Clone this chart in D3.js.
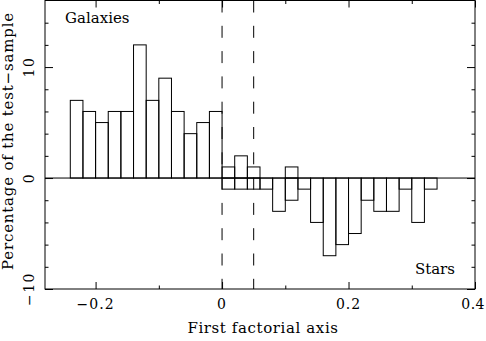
<!DOCTYPE html>
<html>
<head>
<meta charset="utf-8">
<script src="https://cdn.jsdelivr.net/npm/d3@7"></script>
<style>
	body { margin: 0; background: #fff; }
	text { font-family: "DejaVu Serif", serif; fill: #000; }
</style>
</head>
<body>
<script>
// bin left edges (width 0.02) and percentages
const galaxyBins = [-0.24, -0.22, -0.20, -0.18, -0.16, -0.14, -0.12, -0.10, -0.08, -0.06, -0.04, -0.02, 0.00, 0.02, 0.04, 0.10];
const galaxyPct = [7, 6, 5, 6, 6, 12, 7, 9, 6, 4, 5, 6, 1, 2, 1, 1];
const starBins = [0.00, 0.02, 0.04, 0.06, 0.08, 0.10, 0.12, 0.14, 0.16, 0.18, 0.20, 0.22, 0.24, 0.26, 0.28, 0.30, 0.32];
const starPct = [-1, -1, -1, -1, -3, -2, -1, -4, -7, -6, -5, -2, -3, -3, -1, -4, -1];
const binWidth = 0.02;
const cuts = [0, 0.05];

const xMajor = [-0.2, 0, 0.2, 0.4],
	xMinor = [-0.1, 0.1, 0.3],
	yMajor = [-10, 0, 10],
	yMinor = [-8, -6, -4, -2, 2, 4, 6, 8, 12, 14];

const W = 486, H = 341,
	mLeft = 45, mRight = 475, mTop = 0.5, mBottom = 289;

const x = d3.scaleLinear().domain([-0.28, 0.4]).range([mLeft, mRight]),
	y = d3.scaleLinear().domain([-10, 16]).range([mBottom, mTop]);

const svg = d3.select('body').append('svg')
	.attr('width', W)
	.attr('height', H);

const bars = (bins, vals) => bins.map((b, i) => ({x0: b, v: vals[i]}));

svg.append('g')
	.selectAll('rect')
	.data(bars(galaxyBins, galaxyPct).concat(bars(starBins, starPct)))
	.enter()
	.append('rect')
	.attr('x', d => x(d.x0))
	.attr('width', d => x(d.x0 + binWidth) - x(d.x0))
	.attr('y', d => Math.min(y(d.v), y(0)))
	.attr('height', d => Math.abs(y(d.v) - y(0)))
	.attr('fill', 'none')
	.attr('stroke', '#000')
	.attr('stroke-width', 1);

// zero line
svg.append('line')
	.attr('x1', mLeft).attr('x2', mRight)
	.attr('y1', y(0)).attr('y2', y(0))
	.attr('stroke', '#000');

svg.selectAll('.cut')
	.data(cuts)
	.enter()
	.append('line')
	.attr('x1', d => x(d)).attr('x2', d => x(d))
	.attr('y1', mTop).attr('y2', mBottom)
	.attr('stroke', '#000')
	.attr('stroke-dasharray', '12,13.3');

// ticks on all four sides, pointing inward
const tickSet = (axis, vals, size, tr) => svg.append('g')
	.attr('transform', tr)
	.call(axis.tickValues(vals).tickSize(size).tickFormat(''))
	.call(g => g.select('.domain').remove())
	.call(g => g.selectAll('line').attr('stroke', '#000'));

tickSet(d3.axisBottom(x), xMajor, -7, `translate(0,${mBottom})`);
tickSet(d3.axisBottom(x), xMinor, -3.5, `translate(0,${mBottom})`);
tickSet(d3.axisTop(x), xMajor, -7, `translate(0,${mTop})`);
tickSet(d3.axisTop(x), xMinor, -3.5, `translate(0,${mTop})`);
tickSet(d3.axisLeft(y), yMajor, -8, `translate(${mLeft},0)`);
tickSet(d3.axisLeft(y), yMinor, -3.5, `translate(${mLeft},0)`);
tickSet(d3.axisRight(y), yMajor, -8, `translate(${mRight},0)`);
tickSet(d3.axisRight(y), yMinor, -3.5, `translate(${mRight},0)`);

svg.append('rect')
	.attr('x', mLeft).attr('y', mTop)
	.attr('width', mRight - mLeft).attr('height', mBottom - mTop)
	.attr('fill', 'none')
	.attr('stroke', '#000');

const fmt = v => v === 0 ? '0' : d3.format('.1f')(v).replace('-', '\u2212').replace(/\.0$/, '');
const isLast = d => d === xMajor[xMajor.length - 1];

svg.append('g')
	.selectAll('text')
	.data(xMajor)
	.enter()
	.append('text')
	.attr('x', d => isLast(d) ? W - 1 : x(d))
	.attr('y', 309)
	.attr('text-anchor', d => isLast(d) ? 'end' : 'middle')
	.style('font-size', '14px')
	.style('letter-spacing', d => isLast(d) ? '0.5px' : '1px')
	.text(fmt);

svg.append('g')
	.selectAll('text')
	.data(yMajor)
	.enter()
	.append('text')
	.attr('transform', d => `translate(34,${y(d)}) rotate(-90)`)
	.attr('text-anchor', 'middle')
	.style('font-size', '14px')
	.style('letter-spacing', '1.5px')
	.text(d => String(d).replace('-', '\u2212'));

svg.append('text')
	.attr('x', (mLeft + mRight) / 2 + 3)
	.attr('y', 333)
	.attr('text-anchor', 'middle')
	.style('font-size', '15px')
	.style('letter-spacing', '0.6px')
	.text('First factorial axis');

svg.append('text')
	.attr('transform', `translate(13,${141}) rotate(-90)`)
	.attr('text-anchor', 'middle')
	.style('font-size', '15px')
	.style('letter-spacing', '0.8px')
	.text('Percentage of the test\u2212sample');

svg.append('text')
	.attr('x', 65).attr('y', 23)
	.style('font-size', '15px')
	.text('Galaxies');

svg.append('text')
	.attr('x', 455).attr('y', 274)
	.attr('text-anchor', 'end')
	.style('font-size', '15px')
	.text('Stars');
</script>
</body>
</html>
